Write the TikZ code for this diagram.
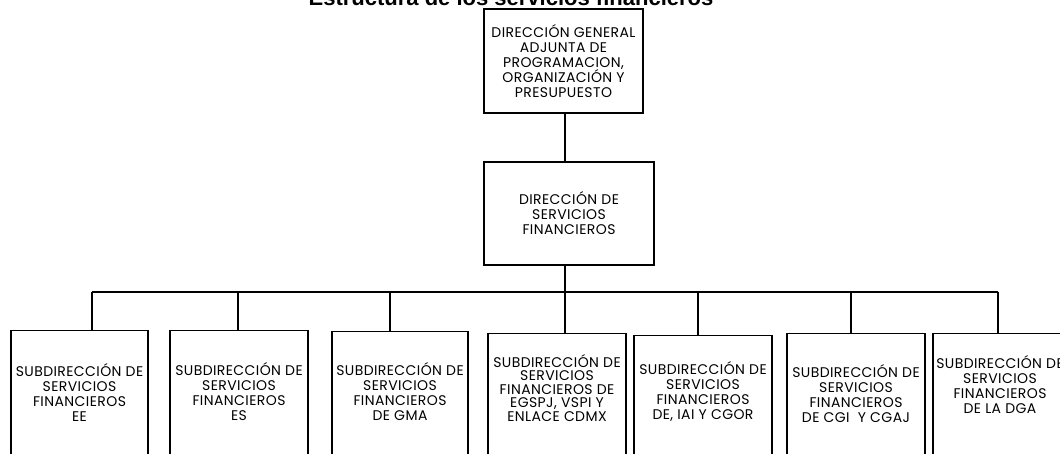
\documentclass[tikz,border=0pt]{standalone}
\usepackage{fontspec}
\setmainfont[LetterSpace=3]{Poppins}
\newfontfamily\titlefont{Liberation Sans}
\begin{document}
\begin{tikzpicture}[x=1pt,y=-1pt,
  box/.style={draw,line width=1.2pt,inner sep=0pt},
  txt/.style={align=center,font=\fontsize{14}{15}\selectfont,inner sep=0pt},
  conn/.style={line width=1.4pt}]
\useasboundingbox (0,0) rectangle (1060,453);
\fill[white] (0,0) rectangle (1060,453);
\node[anchor=base,inner sep=0pt,font=\titlefont\bfseries\fontsize{22}{24}\selectfont] (title) at (511,5) {Estructura de los servicios financieros};

\node[box,txt,minimum width=159pt,minimum height=104pt] (dg) at (563.5,61)
  {DIRECCIÓN GENERAL\\ADJUNTA DE\\PROGRAMACION,\\ORGANIZACIÓN Y\\PRESUPUESTO};
\node[box,txt,minimum width=170pt,minimum height=103pt] (df) at (569,213.5)
  {DIRECCIÓN DE\\SERVICIOS\\FINANCIEROS};

% bottom boxes (cut by the page edge)
\node[box,minimum width=137pt,minimum height=150pt,anchor=north] (b1) at (79.5,330) {};
\node[box,minimum width=138pt,minimum height=150pt,anchor=north] (b2) at (239,330) {};
\node[box,minimum width=136pt,minimum height=150pt,anchor=north] (b3) at (400,331) {};
\node[box,minimum width=138pt,minimum height=150pt,anchor=north] (b4) at (557,333) {};
\node[box,minimum width=138pt,minimum height=150pt,anchor=north] (b5) at (703,335) {};
\node[box,minimum width=138pt,minimum height=150pt,anchor=north] (b6) at (856,333) {};
\node[box,minimum width=140pt,minimum height=150pt,anchor=north] (b7) at (1003,333) {};

\node[txt] (t1) at (79.5,392.5) {SUBDIRECCIÓN DE\\SERVICIOS\\FINANCIEROS\\EE};
\node[txt] (t2) at (239,392) {SUBDIRECCIÓN DE\\SERVICIOS\\FINANCIEROS\\ES};
\node[txt] (t3) at (400,392) {SUBDIRECCIÓN DE\\SERVICIOS\\FINANCIEROS\\DE GMA};
\node[txt,font=\fontsize{14}{13.5}\selectfont] (t4) at (557,388) {SUBDIRECCIÓN DE\\SERVICIOS\\FINANCIEROS DE\\EGSPJ, VSPI Y\\ENLACE CDMX};
\node[txt] (t5) at (703,392) {SUBDIRECCIÓN DE\\SERVICIOS\\FINANCIEROS\\DE, IAI Y CGOR};
\node[txt] (t6) at (856,394) {SUBDIRECCIÓN DE\\SERVICIOS\\FINANCIEROS\\DE CGI\ \ Y CGAJ};
\node[txt] (t7) at (1000,385) {SUBDIRECCIÓN DE\\SERVICIOS\\FINANCIEROS\\DE LA DGA};

% bus drop points
\coordinate (d1) at (92,292);
\coordinate (d2) at (238,292);
\coordinate (d3) at (390,292);
\coordinate (d4) at (565,292);
\coordinate (d5) at (698,292);
\coordinate (d6) at (851,292);
\coordinate (d7) at (998,292);

\draw[conn] (dg.south -| d4) -- (df.north -| d4);
\draw[conn] (df.south -| d4) -- (d4);
\draw[conn] (d1) -- (d7);
\foreach \i in {1,...,7} {\draw[conn] (d\i) -- (d\i |- b\i.north);}
\end{tikzpicture}
\end{document}
